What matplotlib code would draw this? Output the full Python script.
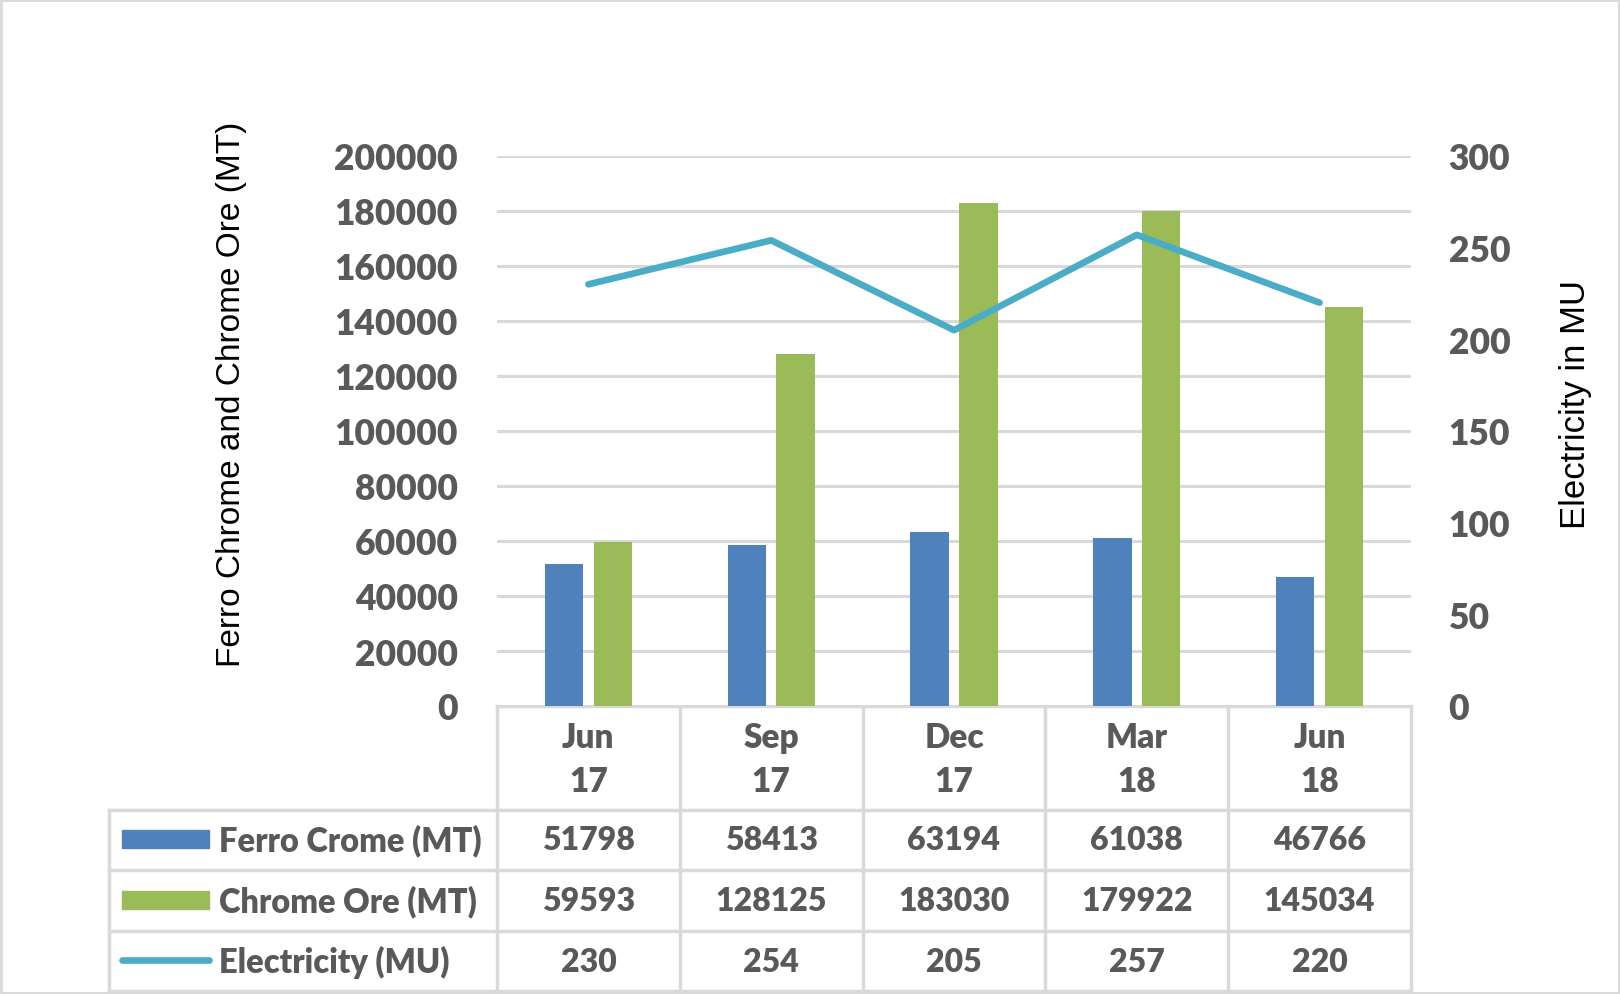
import numpy as np
import matplotlib.pyplot as plt
from matplotlib.patches import Rectangle
from matplotlib.lines import Line2D

# data
periods = ['Jun 17', 'Sep 17', 'Dec 17', 'Mar 18', 'Jun 18']
ferro = [51798, 58413, 63194, 61038, 46766]
chrome_ore = [59593, 128125, 183030, 179922, 145034]
electricity = [230, 254, 205, 257, 220]
series_names = ['Ferro Crome (MT)', 'Chrome Ore (MT)', 'Electricity (MU)']

blue = '#4F81BD'
green = '#9BBB59'
cyan = '#4BACC6'
gridc = '#D9D9D9'
txt = '#595959'
W, H = 1620, 995
wt = 'heavy'

fig = plt.figure(figsize=(W/100, H/100), dpi=100)

# plot area in pixels
pl, pr, pt, pb = 497, 1411, 157, 707
ax = fig.add_axes([pl/W, 1-pb/H, (pr-pl)/W, (pb-pt)/H])
x = np.arange(len(periods))
ax.bar(x-0.133, ferro, 0.21, color=blue, zorder=3)
ax.bar(x+0.133, chrome_ore, 0.21, color=green, zorder=3)
ax.set_xlim(-0.5, len(periods)-0.5)
ax.set_ylim(0, 200000)
ax.set_yticks(np.arange(0, 200001, 20000))
ax.set_xticks([])
ax.yaxis.grid(True, color=gridc, lw=2.2)
ax.set_axisbelow(True)
ax.tick_params(axis='y', length=0, pad=28, labelsize=25.5, labelcolor=txt)
for s in ax.spines.values():
    s.set_visible(False)

ax2 = ax.twinx()
ax2.plot(x, electricity, color=cyan, lw=4.8, solid_capstyle='round', zorder=4)
ax2.set_ylim(0, 300)
ax2.set_yticks(np.arange(0, 301, 50))
ax2.tick_params(axis='y', length=0, pad=27, labelsize=25.5, labelcolor=txt)
for s in ax2.spines.values():
    s.set_visible(False)

for lab in ax.get_yticklabels() + ax2.get_yticklabels():
    lab.set_fontweight(wt)
    lab.set_fontfamily('Lato')

fig.text(232/W, 1-394/H, 'Ferro Chrome and Chrome Ore (MT)', rotation=90,
         ha='center', va='center', fontsize=24, family='Liberation Sans')
fig.text(1576/W, 1-405/H, 'Electricity in MU', rotation=90,
         ha='center', va='center', fontsize=25, family='Liberation Sans')

# data table drawn on an overlay in pixel units
tab = fig.add_axes([0, 0, 1, 1], zorder=-1)
tab.set_xlim(0, W)
tab.set_ylim(H, 0)
tab.axis('off')

colw = (pr-pl)/len(periods)
edges = [pl + i*colw for i in range(len(periods)+1)]
rows = [pb, 811, 871, 932, 992]
legl = 109

tab.add_line(Line2D([pl, pr], [pb, pb], color=gridc, lw=2.5))
for r in rows[1:]:
    tab.add_line(Line2D([legl, pr], [r, r], color=gridc, lw=2.5))
for e in edges:
    tab.add_line(Line2D([e, e], [pb, rows[-1]], color=gridc, lw=2.5))
tab.add_line(Line2D([legl, legl], [rows[1], rows[-1]], color=gridc, lw=2.5))

tfont = dict(fontweight=wt, color=txt, family='Lato')
for i, p in enumerate(periods):
    cx = edges[i] + colw/2
    mon, yr = p.split()
    tab.text(cx, 738, mon, ha='center', va='center', fontsize=24, **tfont)
    tab.text(cx, 782, yr, ha='center', va='center', fontsize=24, **tfont)

row_vals = [ferro, chrome_ore, electricity]
for k, vals in enumerate(row_vals):
    cy = (rows[k+1] + rows[k+2]) / 2
    for i, v in enumerate(vals):
        tab.text(edges[i] + colw/2, cy, str(v), ha='center', va='center', fontsize=23, **tfont)
    tab.text(219, cy, series_names[k], ha='left', va='center', fontsize=23.5, **tfont)

# legend keys
tab.add_patch(Rectangle((122, 831), 87, 18, color=blue))
tab.add_patch(Rectangle((122, 892), 87, 18, color=green))
tab.add_line(Line2D([122, 209], [961, 961], color=cyan, lw=4.8, solid_capstyle='round'))

# chart border
tab.add_patch(Rectangle((1, 1), W-2, H-2, fill=False, edgecolor=gridc, lw=2))

fig.savefig('out.png', dpi=100, facecolor='white')
